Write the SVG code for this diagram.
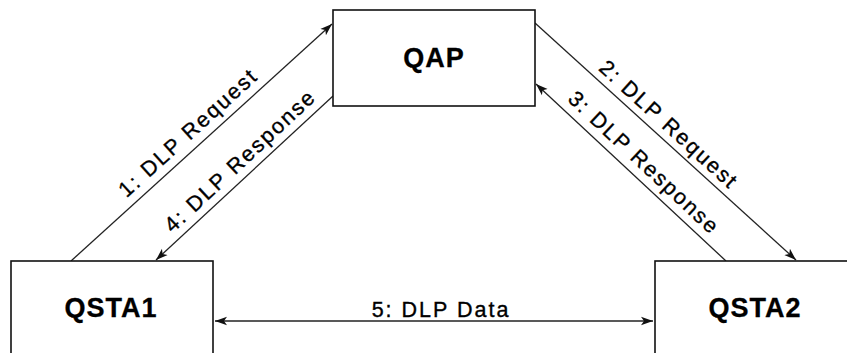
<svg xmlns="http://www.w3.org/2000/svg" width="847" height="353" viewBox="0 0 847 353">
<style>
.box{fill:#fff;stroke:#111;stroke-width:1.6}
.name{font-family:"Liberation Sans",Arial,sans-serif;font-weight:bold;font-size:27px;letter-spacing:1px;fill:#000;stroke:#000;stroke-width:0.3;text-anchor:middle}
.lbl{font-family:"Liberation Sans",Arial,sans-serif;font-size:21.5px;letter-spacing:2px;fill:#000;stroke:#000;stroke-width:0.35;text-anchor:middle}
.conn{stroke:#222;stroke-width:1.3;fill:none}
</style>
<defs>
<marker id="ah" markerUnits="userSpaceOnUse" markerWidth="14" markerHeight="10" refX="12" refY="5" orient="auto-start-reverse">
<path d="M0,0.8 L12,5 L0,9.2 L3,5 z" fill="#111"/>
</marker>
</defs>
<g id="connectors">
<line class="conn" x1="71" y1="261" x2="332" y2="24" marker-end="url(#ah)"/>
<line class="conn" x1="333" y1="96" x2="156" y2="260" marker-end="url(#ah)"/>
<line class="conn" x1="535" y1="23" x2="796" y2="260" marker-end="url(#ah)"/>
<line class="conn" x1="726" y1="261" x2="536" y2="84" marker-end="url(#ah)"/>
<line class="conn" x1="215" y1="321" x2="653" y2="321" marker-start="url(#ah)" marker-end="url(#ah)"/>
<text class="lbl" transform="translate(193,138) rotate(-42.2)">1: DLP Request</text>
<text class="lbl" transform="translate(245,166) rotate(-43)">4: DLP Response</text>
<text class="lbl" transform="translate(664,130) rotate(42.4)">2: DLP Request</text>
<text class="lbl" transform="translate(639,168) rotate(43.1)">3: DLP Response</text>
<text class="lbl" x="441" y="316.5">5: DLP Data</text>
</g>
<g id="QAP">
<rect class="box" x="333" y="10" width="202" height="96"/>
<text class="name" x="434" y="66.5">QAP</text>
</g>
<g id="QSTA1">
<rect class="box" x="11" y="261" width="202" height="110"/>
<text class="name" x="111" y="316.5">QSTA1</text>
</g>
<g id="QSTA2">
<rect class="box" x="655" y="261" width="210" height="110"/>
<text class="name" x="755" y="316.5">QSTA2</text>
</g>
</svg>
